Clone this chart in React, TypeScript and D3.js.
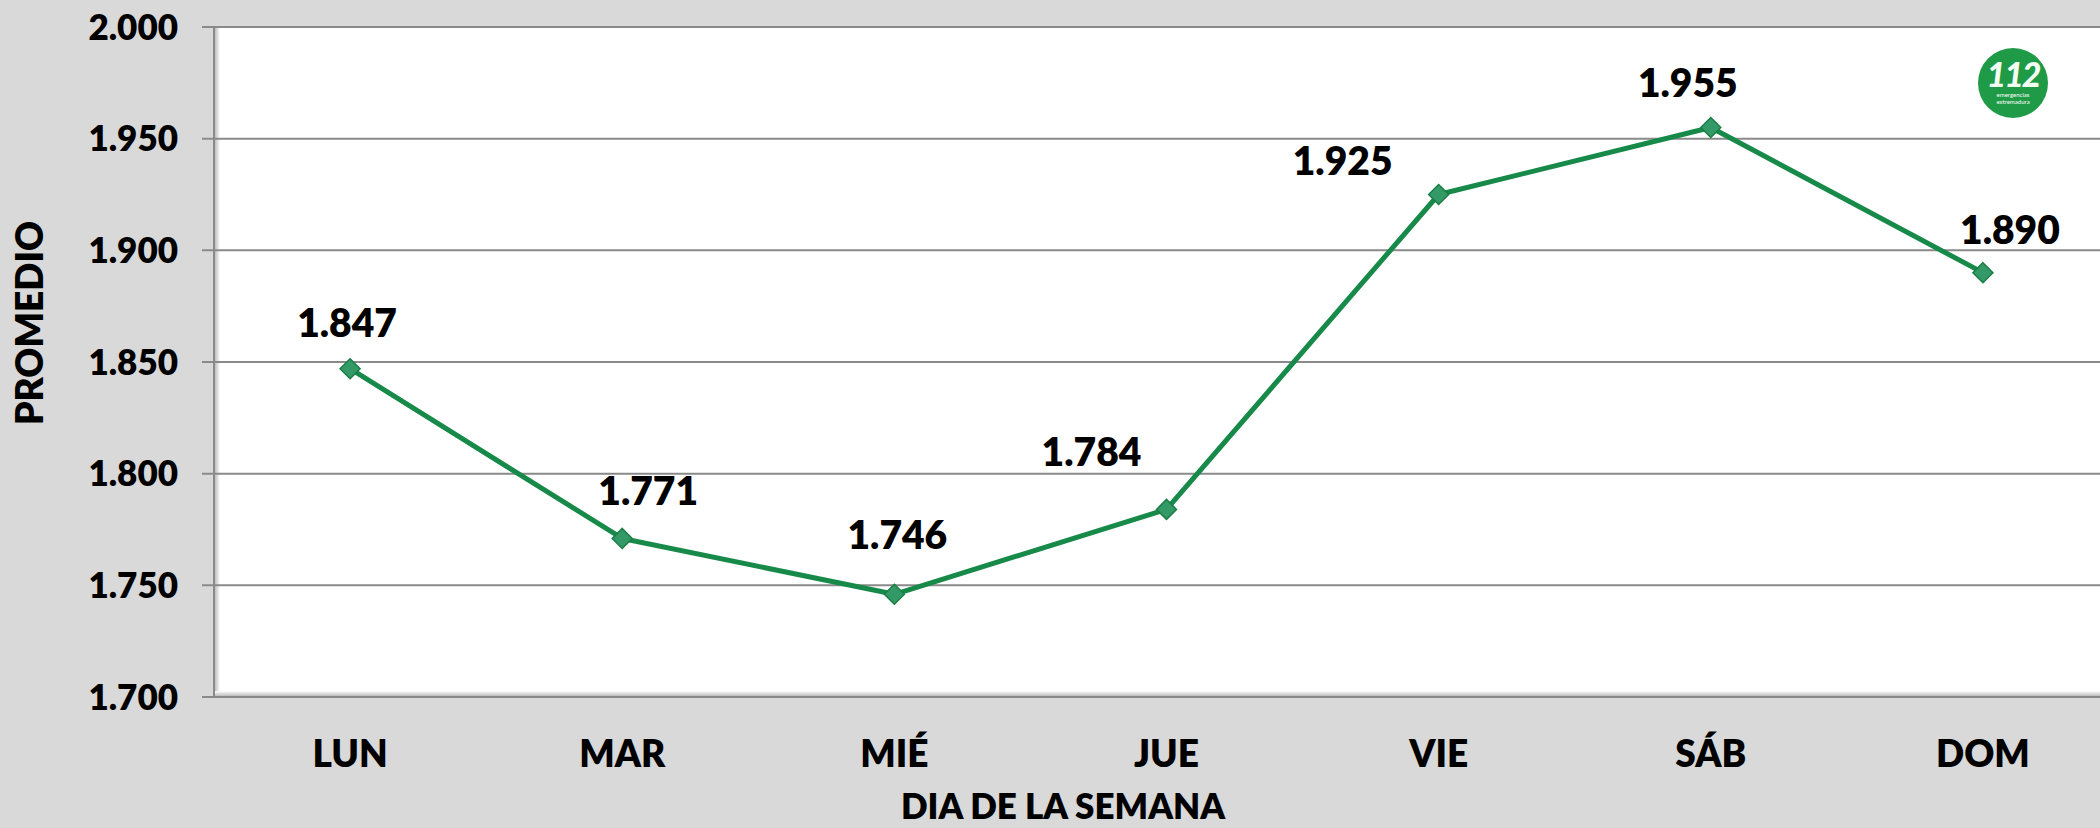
import React from "react";
import * as d3 from "d3";

const categories = ["LUN", "MAR", "MIÉ", "JUE", "VIE", "SÁB", "DOM"];
const values = [1.847, 1.771, 1.746, 1.784, 1.925, 1.955, 1.89];
const yTicks = [1.7, 1.75, 1.8, 1.85, 1.9, 1.95, 2.0];
const labelTexts = ["1.847", "1.771", "1.746", "1.784", "1.925", "1.955", "1.890"];
// manual label placement (Excel-style dragged labels)
const labelDx = [-3, 26, 3, -75, -96, -23, 27];
const labelDy = [-32, -33, -45, -43, -20, -31, -29];

const W = 2100;
const H = 828;
const FONT = "Lato, 'Open Sans', sans-serif";
const WEIGHT = 800;

export default function App() {
  const left = 214;
  const right = 2119;
  const top = 27;
  const bottom = 697;
  const x = d3.scaleBand<string>().domain(categories).range([left, right]);
  const cx = (c: string) => (x(c) as number) + x.bandwidth() / 2;
  const y = d3.scaleLinear().domain([1.7, 2.0]).range([bottom, top]);
  const fmt = d3.format(".3f");
  const line = d3
    .line<number>()
    .x((_, i) => cx(categories[i]))
    .y((d) => y(d));
  const diamond = (px: number, py: number, r: number) =>
    `M${px},${py - r}L${px + r},${py}L${px},${py + r}L${px - r},${py}Z`;

  return (
    <svg
      width={W}
      height={H}
      style={{ position: "absolute", left: 0, top: 0, display: "block" }}
      fontFamily={FONT}
    >
      <defs>
        <linearGradient id="shL" x1="0" x2="1" y1="0" y2="0">
          <stop offset="0" stopColor="#b0b0b0" />
          <stop offset="1" stopColor="#ffffff" />
        </linearGradient>
        <linearGradient id="shB" x1="0" x2="0" y1="1" y2="0">
          <stop offset="0" stopColor="#b0b0b0" />
          <stop offset="1" stopColor="#ffffff" />
        </linearGradient>
      </defs>
      <rect x={0} y={0} width={W} height={H} fill="#d9d9d9" />
      <rect x={left} y={top} width={right - left} height={bottom - top} fill="#ffffff" />
      <rect x={left} y={top} width={6} height={bottom - top} fill="url(#shL)" />
      <rect x={left} y={bottom - 6} width={right - left} height={6} fill="url(#shB)" />

      {yTicks.map((t) => (
        <g key={t}>
          <line
            x1={left - 12}
            x2={right}
            y1={y(t)}
            y2={y(t)}
            stroke="#8a8a8a"
            strokeWidth={2}
          />
          <text
            x={178}
            y={y(t)}
            dy="0.36em"
            textAnchor="end"
            fontSize={35}
            fontWeight={WEIGHT}
            fill="#000"
          >
            {fmt(t)}
          </text>
        </g>
      ))}
      <line x1={left} x2={left} y1={top} y2={bottom} stroke="#8a8a8a" strokeWidth={2} />

      {categories.map((c) => (
        <text
          key={c}
          x={cx(c)}
          y={767}
          textAnchor="middle"
          fontSize={37}
          fontWeight={WEIGHT}
          fill="#000"
        >
          {c}
        </text>
      ))}

      <text x={1063} y={819} textAnchor="middle" fontSize={35} fontWeight={WEIGHT} fill="#000">
        DIA DE LA SEMANA
      </text>
      <text
        transform={`translate(43,323) rotate(-90)`}
        textAnchor="middle"
        fontSize={37}
        fontWeight={WEIGHT}
        fill="#000"
      >
        PROMEDIO
      </text>

      <path d={line(values) || ""} fill="none" stroke="#178a4a" strokeWidth={5} strokeLinejoin="round" />
      {values.map((v, i) => (
        <path
          key={i}
          d={diamond(cx(categories[i]), y(v), 10)}
          fill="#339966"
          stroke="#1a7f45"
          strokeWidth={1.5}
        />
      ))}
      {values.map((v, i) => (
        <text
          key={"l" + i}
          x={cx(categories[i]) + labelDx[i]}
          y={y(v) + labelDy[i]}
          textAnchor="middle"
          fontSize={39}
          fontWeight={WEIGHT}
          fill="#000"
        >
          {labelTexts[i]}
        </text>
      ))}

      <g transform="translate(2013,83)">
        <circle r={35} fill="#1f9a47" />
        <text
          y={4}
          textAnchor="middle"
          fontSize={34}
          fontWeight={900}
          fontStyle="italic"
          fill="#f4fff4"
          letterSpacing={-2}
        >
          112
        </text>
        <text y={14} textAnchor="middle" fontSize={6} fill="#ffffff">
          emergencias
        </text>
        <text y={21} textAnchor="middle" fontSize={6} fill="#ffffff">
          extremadura
        </text>
      </g>
    </svg>
  );
}
